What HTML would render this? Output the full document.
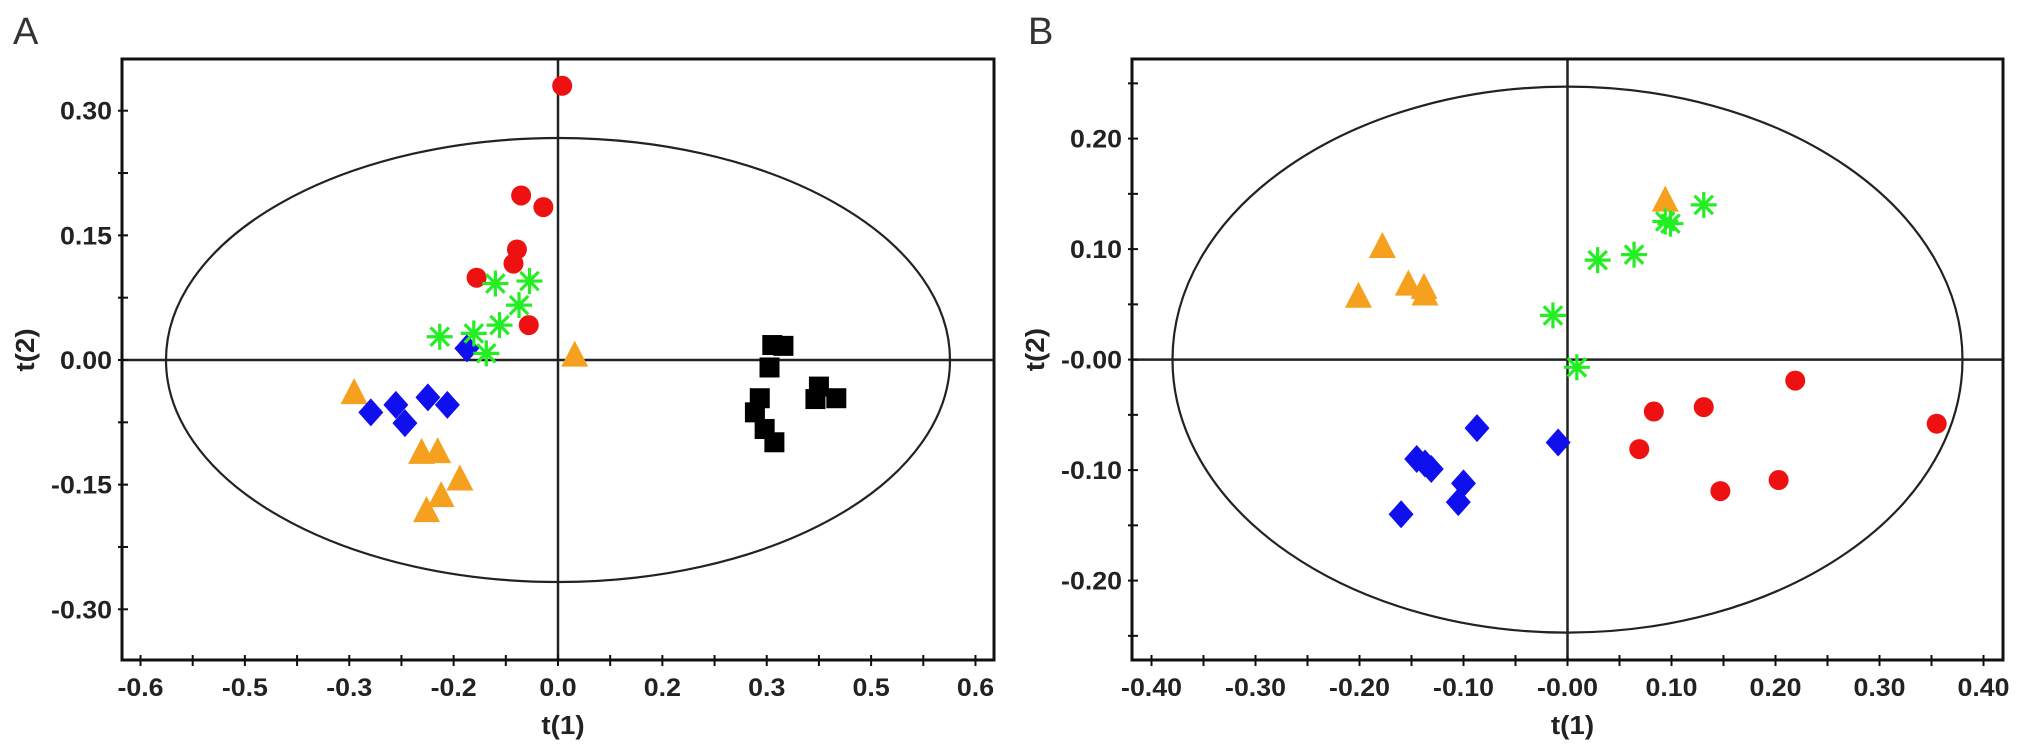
<!DOCTYPE html>
<html><head><meta charset="utf-8"><style>
html,body{margin:0;padding:0;background:#fff;}
svg{display:block;font-family:"Liberation Sans",Arial,sans-serif;}
</style></head><body>
<svg id="fig" width="2031" height="752" viewBox="0 0 2031 752">
<text x="13" y="44" font-size="38" fill="#333">A</text>
<text x="1028" y="44" font-size="38" fill="#333">B</text>
</svg>
<script>
// Panel A data
const aRedX=[0.006,-0.053,-0.021,-0.059,-0.064,-0.117,-0.042];
const aRedY=[0.330,0.198,0.184,0.133,0.116,0.099,0.042];
const aGreenX=[-0.090,-0.041,-0.056,-0.084,-0.121,-0.170,-0.103];
const aGreenY=[0.092,0.095,0.066,0.042,0.032,0.028,0.008];
const aBlueX=[-0.131,-0.269,-0.233,-0.220,-0.187,-0.159];
const aBlueY=[0.014,-0.063,-0.054,-0.076,-0.045,-0.054];
const aOrangeX=[-0.293,0.024,-0.196,-0.173,-0.141,-0.168,-0.189];
const aOrangeY=[-0.041,0.004,-0.113,-0.112,-0.145,-0.165,-0.183];
const aBlackX=[0.308,0.324,0.304,0.290,0.283,0.297,0.311,0.375,0.370,0.400];
const aBlackY=[0.018,0.017,-0.009,-0.046,-0.063,-0.083,-0.099,-0.032,-0.047,-0.046];
const aXTickVals=[-0.6,-0.45,-0.3,-0.15,0,0.15,0.3,0.45,0.6];
const aXTickLabels=["-0.6","-0.5","-0.3","-0.2","0.0","0.2","0.3","0.5","0.6"];
const aYTickVals=[0.3,0.15,0,-0.15,-0.3];
const aYTickLabels=["0.30","0.15","0.00","-0.15","-0.30"];
// Panel B data
const bOrangeX=[0.094,-0.178,-0.153,-0.138,-0.137,-0.201];
const bOrangeY=[0.143,0.101,0.067,0.064,0.058,0.056];
const bGreenX=[0.131,0.094,0.099,0.029,0.064,-0.014,0.009];
const bGreenY=[0.140,0.125,0.123,0.090,0.095,0.040,-0.007];
const bRedX=[0.219,0.131,0.083,0.069,0.355,0.203,0.147];
const bRedY=[-0.019,-0.043,-0.047,-0.081,-0.058,-0.109,-0.119];
const bBlueX=[-0.087,-0.009,-0.145,-0.137,-0.131,-0.100,-0.105,-0.160];
const bBlueY=[-0.062,-0.075,-0.090,-0.094,-0.099,-0.112,-0.129,-0.140];
const bXTickVals=[-0.4,-0.3,-0.2,-0.1,0,0.1,0.2,0.3,0.4];
const bXTickLabels=["-0.40","-0.30","-0.20","-0.10","-0.00","0.10","0.20","0.30","0.40"];
const bYTickVals=[0.2,0.1,0,-0.1,-0.2];
const bYTickLabels=["0.20","0.10","-0.00","-0.10","-0.20"];

const NS="http://www.w3.org/2000/svg";
const svg=document.getElementById('fig');
function mk(tag,attrs,parent){const e=document.createElementNS(NS,tag);for(const k in attrs)e.setAttribute(k,attrs[k]);(parent||svg).appendChild(e);return e;}

function panel(p){
  const g=mk('g',{});
  
  
  const sx=v=>p.x0+v*p.kx, sy=v=>p.y0-v*p.ky;
  const el=mk('ellipse',{cx:sx(0),cy:sy(0),rx:p.erx,ry:p.ery,fill:'none',stroke:'#222','stroke-width':2.2},g);
  
  
  const h=mk('line',{x1:p.L,x2:p.R,y1:sy(0),y2:sy(0),stroke:'#222','stroke-width':2.5},g);
  
  
  const v=mk('line',{x1:sx(0),x2:sx(0),y1:p.T,y2:p.B,stroke:'#222','stroke-width':2.5},g);
  
  
  const fr=mk('rect',{x:p.L,y:p.T,width:p.R-p.L,height:p.B-p.T,fill:'none',stroke:'#111','stroke-width':3},g);
  
  
  for(let t=p.xmin;t<=p.xmax+1e-9;t+=p.xstep){const X=sx(t);mk('line',{x1:X,x2:X,y1:p.B-5,y2:p.B+6,stroke:'#111','stroke-width':2},g);}
  for(let t=p.ymin;t<=p.ymax+1e-9;t+=p.ystep){const Y=sy(t);mk('line',{x1:p.L-4,x2:p.L+6,y1:Y,y2:Y,stroke:'#111','stroke-width':2},g);}
  p.xt.forEach((t,i)=>{const tx=mk('text',{transform:`translate(${sx(t)},696) scale(1.07,1)`,'text-anchor':'middle','font-size':25,'font-weight':'bold',fill:'#222'},g);tx.textContent=p.xl[i];
    
    });
  p.yt.forEach((t,i)=>{const tx=mk('text',{transform:`translate(${p.L-10},${sy(t)+9}) scale(1.07,1)`,'text-anchor':'end','font-size':25,'font-weight':'bold',fill:'#222'},g);tx.textContent=p.yl[i];
    
    });
  const xt=mk('text',{transform:`translate(${sx(0)+5},734) scale(1.07,1)`,'text-anchor':'middle','font-size':26,'font-weight':'bold',fill:'#222'},g);xt.textContent='t(1)';
  
  
  const yt=mk('text',{transform:`translate(${p.L-88},${sy(0)-10}) rotate(-90) scale(1.07,1)`,'text-anchor':'middle','font-size':26,'font-weight':'bold',fill:'#222'},g);yt.textContent='t(2)';
  
  
  p.series.forEach(s=>{
    s.xs.forEach((xv,i)=>{
      const X=sx(xv),Y=sy(s.ys[i]);let m;
      if(s.shape==='circle') m=mk('circle',{cx:X,cy:Y,r:10,fill:'#ee1111'},g);
      else if(s.shape==='square') m=mk('rect',{x:X-10,y:Y-10,width:20,height:20,fill:'#000'},g);
      else if(s.shape==='diamond') m=mk('polygon',{points:`${X},${Y-14} ${X+12.5},${Y} ${X},${Y+14} ${X-12.5},${Y}`,fill:'#1010ee'},g);
      else if(s.shape==='triangle') m=mk('polygon',{points:`${X},${Y-16} ${X+13.5},${Y+10} ${X-13.5},${Y+10}`,fill:'#f5a01e'},g);
      else {m=mk('g',{stroke:'#22ee22','stroke-width':3.2},g);
        for(let a=0;a<4;a++){const an=a*Math.PI/4,dx=13*Math.cos(an),dy=13*Math.sin(an);mk('line',{x1:X-dx,y1:Y-dy,x2:X+dx,y2:Y+dy},m);}}
      
      
    });
  });
}
panel({name:'panel-a',L:122,R:994,T:59,B:660,x0:558,kx:695.8,y0:360,ky:831,erx:392,ery:222,
  xmin:-0.6,xmax:0.6,xstep:0.075,ymin:-0.3,ymax:0.3,ystep:0.075,
  xt:aXTickVals,xl:aXTickLabels,yt:aYTickVals,yl:aYTickLabels,
  series:[{xs:aBlackX,ys:aBlackY,shape:'square',name:'point-black'},{xs:aOrangeX,ys:aOrangeY,shape:'triangle',name:'point-orange'},
    {xs:aBlueX,ys:aBlueY,shape:'diamond',name:'point-blue'},{xs:aRedX,ys:aRedY,shape:'circle',name:'point-red'},
    {xs:aGreenX,ys:aGreenY,shape:'star',name:'point-green'}]});
panel({name:'panel-b',L:1132,R:2003,T:59,B:660,x0:1567.5,kx:1040,y0:359.6,ky:1105,erx:395,ery:273,
  xmin:-0.4,xmax:0.4,xstep:0.05,ymin:-0.25,ymax:0.25,ystep:0.05,
  xt:bXTickVals,xl:bXTickLabels,yt:bYTickVals,yl:bYTickLabels,
  series:[{xs:bOrangeX,ys:bOrangeY,shape:'triangle',name:'point-orange'},{xs:bBlueX,ys:bBlueY,shape:'diamond',name:'point-blue'},
    {xs:bRedX,ys:bRedY,shape:'circle',name:'point-red'},{xs:bGreenX,ys:bGreenY,shape:'star',name:'point-green'}]});
</script>
</body></html>
